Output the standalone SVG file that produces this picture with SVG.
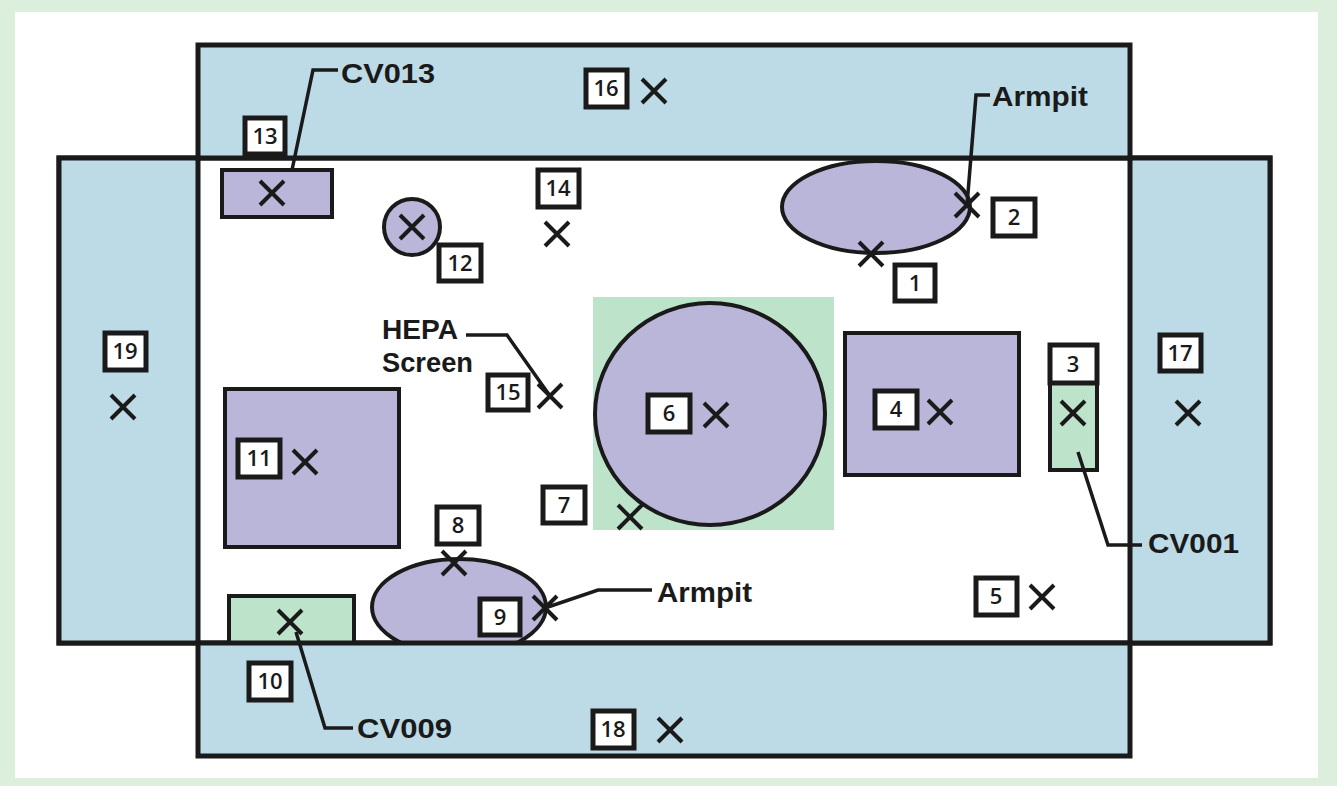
<svg xmlns="http://www.w3.org/2000/svg" xmlns:xlink="http://www.w3.org/1999/xlink" width="1337" height="786" viewBox="0 0 1337 786">
<style>
.ol{stroke:#1a1a1a;stroke-width:5;}
.sh{stroke:#1a1a1a;stroke-width:4;}
.blue{fill:#bddbe6;}
.purple{fill:#b9b6d9;}
.green{fill:#bde4cb;}
.box{fill:#ffffff;stroke:#1a1a1a;stroke-width:5;}
.num{font-family:"Open Sans","Liberation Sans",Arial,sans-serif;font-size:22px;font-weight:600;fill:#1a1a1a;text-anchor:middle;}
.lbl{font-family:"Liberation Sans",Arial,sans-serif;font-size:28px;font-weight:bold;fill:#1a1a1a;}
.lead{fill:none;stroke:#1a1a1a;stroke-width:3.5;}
</style>
<defs>
<path id="x" d="M-12,-12 L12,12 M12,-12 L-12,12" fill="none" stroke="#1a1a1a" stroke-width="4"/>
</defs>
<rect x="0" y="0" width="1337" height="786" fill="#dcefdc"/>
<rect x="15" y="12" width="1303" height="766" fill="#ffffff"/>
<g id="room">
<rect x="59" y="158" width="1211" height="485" fill="#ffffff" class="ol"/>
</g>
<g id="panel-19">
<rect x="59" y="158" width="139" height="485" class="blue ol"/>
</g>
<g id="panel-17">
<rect x="1130" y="158" width="140" height="485" class="blue ol"/>
</g>
<g id="panel-16">
<rect x="198" y="45" width="932" height="113" class="blue ol"/>
</g>
<g id="obj-13"><rect x="222" y="170" width="110" height="47" class="purple sh"/></g>
<g id="obj-12"><circle cx="412" cy="227" r="28" class="purple sh"/></g>
<g id="obj-1-2"><ellipse cx="876" cy="207" rx="94" ry="46" class="purple sh"/></g>
<g id="obj-6">
<rect x="593" y="297" width="241" height="233" class="green"/>
<ellipse cx="710" cy="414" rx="115" ry="111" class="purple sh"/>
</g>
<g id="obj-4"><rect x="845" y="333" width="174" height="142" class="purple sh"/></g>
<g id="obj-3"><rect x="1050" y="345" width="47" height="125" class="green sh"/></g>
<g id="obj-11"><rect x="225" y="389" width="174" height="158" class="purple sh"/></g>
<g id="obj-10"><rect x="229" y="596" width="125" height="47" class="green sh"/></g>
<g id="obj-8-9"><ellipse cx="459" cy="607" rx="87" ry="48" class="purple sh"/></g>
<g id="panel-18">
<rect x="198" y="643" width="932" height="113" class="blue ol"/>
</g>
<g id="connectors">
<polyline class="lead" points="338,70 313,70 292,170"/>
<polyline class="lead" points="990,95 976,95 967,205"/>
<polyline class="lead" points="466,335 507,335 550,396"/>
<polyline class="lead" points="1078,452 1108,545 1142,545"/>
<polyline class="lead" points="296,632 325,728 353,728"/>
<polyline class="lead" points="545,608 598,590 652,590"/>
</g>
<g id="marks">
<use xlink:href="#x" x="871" y="254"/>
<use xlink:href="#x" x="967" y="205"/>
<use xlink:href="#x" x="1073" y="413"/>
<use xlink:href="#x" x="940" y="412"/>
<use xlink:href="#x" x="1042" y="597"/>
<use xlink:href="#x" x="716" y="415"/>
<use xlink:href="#x" x="630" y="517"/>
<use xlink:href="#x" x="454" y="563"/>
<use xlink:href="#x" x="545" y="608"/>
<use xlink:href="#x" x="290" y="622"/>
<use xlink:href="#x" x="305" y="462"/>
<use xlink:href="#x" x="412" y="227"/>
<use xlink:href="#x" x="272" y="193"/>
<use xlink:href="#x" x="557" y="234"/>
<use xlink:href="#x" x="550" y="396"/>
<use xlink:href="#x" x="654" y="91"/>
<use xlink:href="#x" x="1188" y="413"/>
<use xlink:href="#x" x="670" y="730"/>
<use xlink:href="#x" x="123" y="407"/>
</g>
<g id="label-1"><rect class="box" x="895" y="265" width="40" height="36"/><text class="num" x="915" y="291">1</text></g>
<g id="label-2"><rect class="box" x="993" y="199" width="42" height="37"/><text class="num" x="1014" y="225">2</text></g>
<g id="label-3"><rect class="box" x="1050" y="345" width="47" height="38"/><text class="num" x="1073" y="372">3</text></g>
<g id="label-4"><rect class="box" x="875" y="391" width="42" height="37"/><text class="num" x="896" y="417">4</text></g>
<g id="label-5"><rect class="box" x="976" y="578" width="41" height="37"/><text class="num" x="996" y="604">5</text></g>
<g id="label-6"><rect class="box" x="648" y="395" width="42" height="37"/><text class="num" x="669" y="421">6</text></g>
<g id="label-7"><rect class="box" x="543" y="487" width="42" height="36"/><text class="num" x="564" y="513">7</text></g>
<g id="label-8"><rect class="box" x="437" y="507" width="42" height="37"/><text class="num" x="458" y="533">8</text></g>
<g id="label-9"><rect class="box" x="480" y="599" width="40" height="36"/><text class="num" x="500" y="625">9</text></g>
<g id="label-10"><rect class="box" x="249" y="663" width="42" height="37"/><text class="num" x="270" y="689">10</text></g>
<g id="label-11"><rect class="box" x="238" y="440" width="42" height="37"/><text class="num" x="259" y="466">11</text></g>
<g id="label-12"><rect class="box" x="439" y="245" width="42" height="36"/><text class="num" x="460" y="271">12</text></g>
<g id="label-13"><rect class="box" x="245" y="118" width="40" height="36"/><text class="num" x="265" y="144">13</text></g>
<g id="label-14"><rect class="box" x="538" y="170" width="41" height="37"/><text class="num" x="558" y="196">14</text></g>
<g id="label-15"><rect class="box" x="488" y="375" width="40" height="35"/><text class="num" x="508" y="400">15</text></g>
<g id="label-16"><rect class="box" x="586" y="70" width="41" height="37"/><text class="num" x="606" y="96">16</text></g>
<g id="label-17"><rect class="box" x="1160" y="335" width="41" height="36"/><text class="num" x="1180" y="361">17</text></g>
<g id="label-18"><rect class="box" x="593" y="711" width="41" height="37"/><text class="num" x="613" y="737">18</text></g>
<g id="label-19"><rect class="box" x="105" y="333" width="41" height="37"/><text class="num" x="125" y="359">19</text></g>
<g id="texts">
<text class="lbl" x="341" y="83" textLength="94" lengthAdjust="spacingAndGlyphs">CV013</text>
<text class="lbl" x="992" y="106" textLength="96" lengthAdjust="spacingAndGlyphs">Armpit</text>
<text class="lbl" x="382" y="339" font-size="27" textLength="76" lengthAdjust="spacingAndGlyphs">HEPA</text>
<text class="lbl" x="382" y="372" font-size="27" textLength="91" lengthAdjust="spacingAndGlyphs">Screen</text>
<text class="lbl" x="1148" y="553" textLength="91" lengthAdjust="spacingAndGlyphs">CV001</text>
<text class="lbl" x="657" y="602" textLength="95" lengthAdjust="spacingAndGlyphs">Armpit</text>
<text class="lbl" x="357" y="738" textLength="95" lengthAdjust="spacingAndGlyphs">CV009</text>
</g>
</svg>
